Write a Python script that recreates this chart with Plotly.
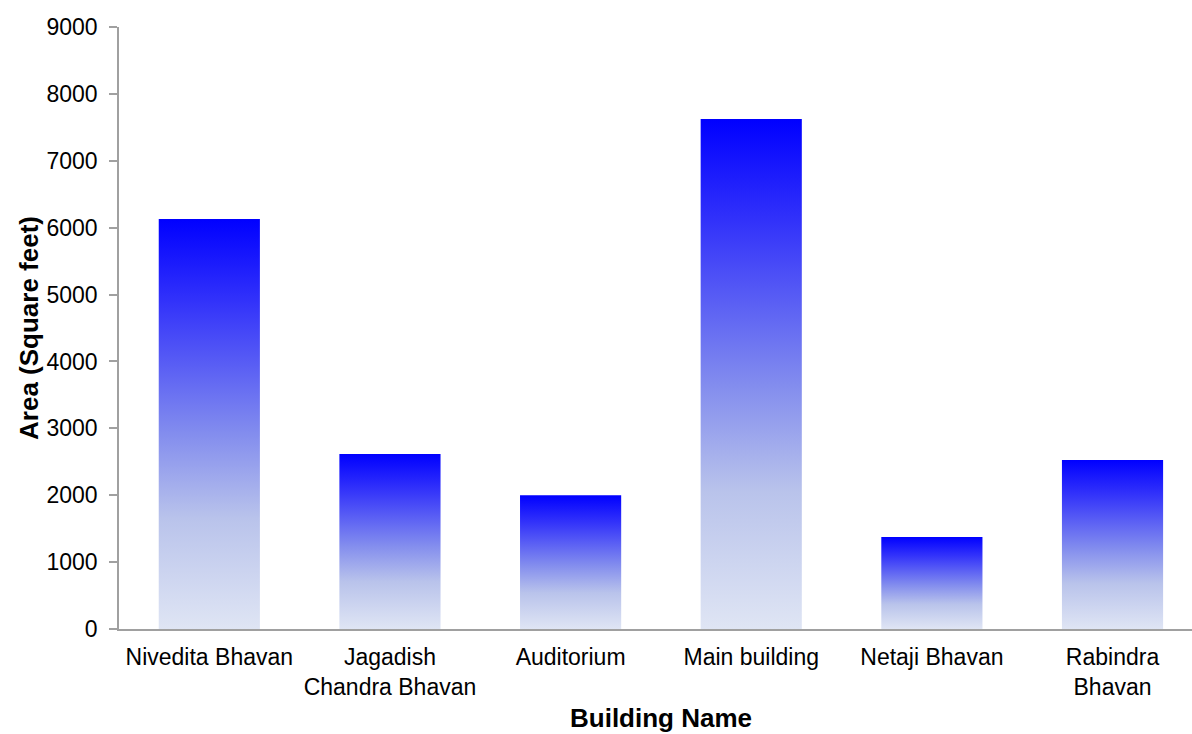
import plotly.graph_objects as go

buildings = ["Nivedita Bhavan", "Jagadish<br>Chandra Bhavan", "Auditorium",
             "Main building", "Netaji Bhavan", "Rabindra<br>Bhavan"]
areas = [6130, 2615, 2000, 7625, 1375, 2525]
y_ticks = [0, 1000, 2000, 3000, 4000, 5000, 6000, 7000, 8000, 9000]

bar_width = 0.56
gradient = [[0.0, "#dfe5f4"], [0.27, "#b9c3eb"], [0.48, "#828cee"],
            [0.8, "#3232fa"], [1.0, "#0000ff"]]

fig = go.Figure()
for i, v in enumerate(areas):
    x0, x1 = i - bar_width / 2, i + bar_width / 2
    fig.add_trace(go.Scatter(
        x=[x0, x0, x1, x1, x0], y=[0, v, v, 0, 0],
        mode="lines", fill="toself", line=dict(width=0, color="rgba(0,0,0,0)"),
        fillgradient=dict(type="vertical", colorscale=gradient),
        showlegend=False, hoverinfo="skip"))

font_family = "Liberation Sans, Arial, sans-serif"
fig.update_layout(
    width=1192, height=734,
    margin=dict(l=119, r=0, t=27, b=105),
    paper_bgcolor="white", plot_bgcolor="white",
    font=dict(family=font_family, size=23, color="black"),
    showlegend=False,
    xaxis=dict(range=[-0.5, 5.44], tickmode="array", tickvals=list(range(len(buildings))),
               ticktext=buildings, showgrid=False, zeroline=False,
               showline=True, linecolor="#a0a0a0", linewidth=1.5, ticks="",
               ticklabelstandoff=7, tickfont=dict(size=23)),
    yaxis=dict(range=[0, 9000], tickmode="array", tickvals=y_ticks,
               showgrid=False, zeroline=False, showline=True, linecolor="#a0a0a0",
               linewidth=1.5, ticks="outside", ticklen=8, tickcolor="#a0a0a0",
               tickwidth=1.5, ticklabelstandoff=7, tickfont=dict(size=23),
               title=dict(text="<b>Area (Square feet)</b>", font=dict(size=26), standoff=0)),
    annotations=[dict(text="<b>Building Name</b>", x=2.5, xref="x", y=0, yref="paper",
                      yshift=-89, showarrow=False, font=dict(size=26), yanchor="middle")],
)

fig.write_html("out.html")
